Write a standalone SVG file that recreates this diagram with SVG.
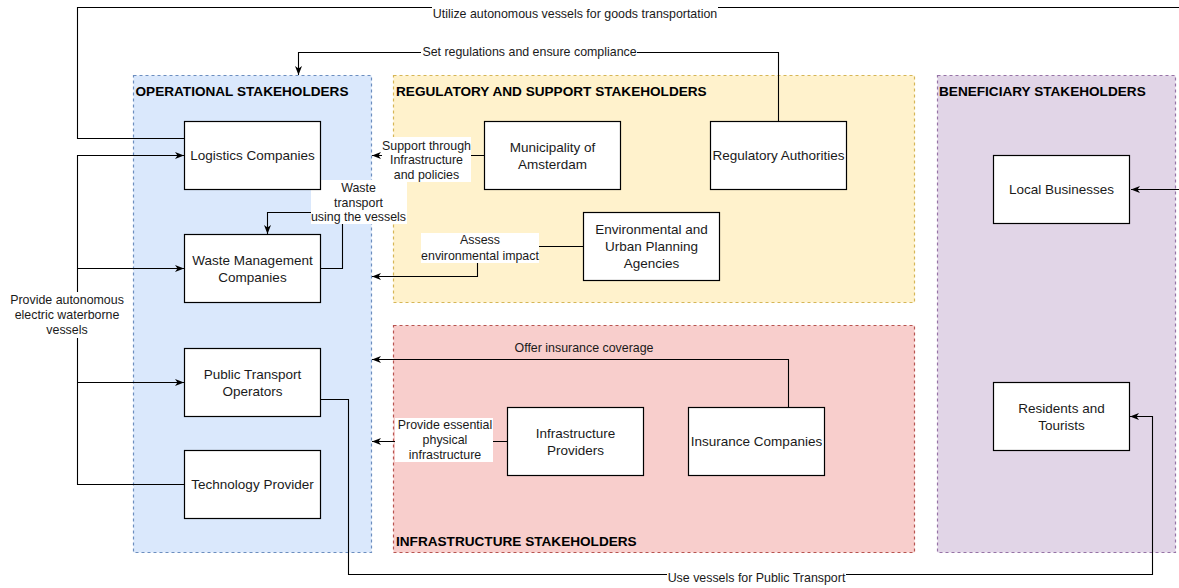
<svg xmlns="http://www.w3.org/2000/svg" width="1179" height="588" viewBox="0 0 1179 588">
  <style>
    .grp { stroke-dasharray: 3 3; stroke-width: 1.2; }
    .node rect { fill: #ffffff; stroke: #000000; stroke-width: 1.2; }
    .node text { font-family: "Liberation Sans", Arial, Helvetica, sans-serif; font-size: 13.5px; fill: #1a1a1a; text-anchor: middle; }
    .title { font-family: "Liberation Sans", Arial, Helvetica, sans-serif; font-size: 13.6px; font-weight: bold; fill: #000000; }
    .edge { fill: none; stroke: #000000; stroke-width: 1.1; }
    .lbl { font-family: "Liberation Sans", Arial, Helvetica, sans-serif; font-size: 12.4px; fill: #1a1a1a; text-anchor: middle; }
    .lblbg { fill: #ffffff; }
  </style>
  <defs>
    <marker id="arr" markerWidth="10" markerHeight="8" refX="9" refY="4" orient="auto" markerUnits="userSpaceOnUse">
      <path d="M0,0.5 L9,4 L0,7.5 L2.5,4 Z" fill="#000000"/>
    </marker>
  </defs>

  <rect width="1179" height="588" fill="#ffffff"/>

  <!-- stakeholder groups -->
  <g id="group-operational">
    <rect class="grp" x="133.5" y="75.5" width="238" height="477" fill="#dae8fc" stroke="#6c8ebf"/>
    <text class="title" x="135.5" y="96">OPERATIONAL STAKEHOLDERS</text>
  </g>
  <g id="group-regulatory">
    <rect class="grp" x="393.5" y="75.5" width="521" height="227" fill="#fff2cc" stroke="#d6b656"/>
    <text class="title" x="396" y="96">REGULATORY AND SUPPORT STAKEHOLDERS</text>
  </g>
  <g id="group-infrastructure">
    <rect class="grp" x="393.5" y="325.5" width="521" height="227" fill="#f8cecc" stroke="#b85450"/>
    <text class="title" x="396" y="546">INFRASTRUCTURE STAKEHOLDERS</text>
  </g>
  <g id="group-beneficiary">
    <rect class="grp" x="937.5" y="75.5" width="238" height="477" fill="#e1d5e7" stroke="#9673a6"/>
    <text class="title" x="939" y="96">BENEFICIARY STAKEHOLDERS</text>
  </g>

  <!-- connectors -->
  <g id="connectors">
    <!-- Logistics -> Local Businesses (goods transportation) -->
    <path class="edge" d="M184,138.5 H77.5 V7.5 H1195 V189.5 H1131" marker-end="url(#arr)"/>
    <!-- Regulatory Authorities -> Operational group -->
    <path class="edge" d="M778.5,121 V52.5 H298.5 V75" marker-end="url(#arr)"/>
    <!-- Municipality -> Operational group -->
    <path class="edge" d="M484,155.5 H372" marker-end="url(#arr)"/>
    <!-- Environmental agencies -> Operational group -->
    <path class="edge" d="M583,246.5 H477.5 V276.5 H372" marker-end="url(#arr)"/>
    <!-- Waste transport loop -->
    <path class="edge" d="M320,268.5 H342.5 V212.5 H267.5 V234" marker-end="url(#arr)"/>
    <!-- Technology Provider -> operators -->
    <path class="edge" d="M184,484.5 H77.5 V155.5 H184" marker-end="url(#arr)"/>
    <path class="edge" d="M77.5,268.5 H184" marker-end="url(#arr)"/>
    <path class="edge" d="M77.5,382.5 H184" marker-end="url(#arr)"/>
    <!-- Insurance -> Operational group -->
    <path class="edge" d="M788.5,407 V359.5 H372" marker-end="url(#arr)"/>
    <!-- Infrastructure Providers -> Operational group -->
    <path class="edge" d="M507,441.5 H372" marker-end="url(#arr)"/>
    <!-- Public Transport -> Residents and Tourists -->
    <path class="edge" d="M320,399.5 H348.5 V574.5 H1152.5 V416.5 H1130" marker-end="url(#arr)"/>
  </g>

  <!-- connector labels -->
  <g id="labels">
    <rect class="lblbg" x="432" y="4" width="286" height="18"/>
    <text class="lbl" x="575" y="17.5">Utilize autonomous vessels for goods transportation</text>

    <rect class="lblbg" x="421" y="45" width="216" height="15"/>
    <text class="lbl" x="529.5" y="56">Set regulations and ensure compliance</text>

    <rect class="lblbg" x="382" y="137" width="89" height="45"/>
    <text class="lbl" x="426.5" y="150">Support through</text>
    <text class="lbl" x="426.5" y="164">Infrastructure</text>
    <text class="lbl" x="426.5" y="178.5">and policies</text>

    <rect class="lblbg" x="311" y="180" width="96" height="44"/>
    <text class="lbl" x="358.5" y="192">Waste</text>
    <text class="lbl" x="358.5" y="206.5">transport</text>
    <text class="lbl" x="358.5" y="221">using the vessels</text>

    <rect class="lblbg" x="421" y="233" width="118" height="30"/>
    <text class="lbl" x="480" y="244">Assess</text>
    <text class="lbl" x="480" y="260">environmental impact</text>

    <rect class="lblbg" x="10" y="292" width="114" height="46"/>
    <text class="lbl" x="67" y="304">Provide autonomous</text>
    <text class="lbl" x="67" y="319">electric waterborne</text>
    <text class="lbl" x="67" y="333.5">vessels</text>

    <text class="lbl" x="584" y="351.5">Offer insurance coverage</text>

    <rect class="lblbg" x="395" y="418" width="98" height="44"/>
    <text class="lbl" x="445" y="429">Provide essential</text>
    <text class="lbl" x="445" y="444">physical</text>
    <text class="lbl" x="445" y="458.5">infrastructure</text>

    <rect class="lblbg" x="667" y="569" width="179" height="15"/>
    <text class="lbl" x="756.5" y="581.5">Use vessels for Public Transport</text>
  </g>

  <!-- operational stakeholders -->
  <g id="logistics-companies" class="node">
    <rect x="184.5" y="121.5" width="136" height="68"/>
    <text x="252.5" y="159.5">Logistics Companies</text>
  </g>
  <g id="waste-management" class="node">
    <rect x="184.5" y="234.5" width="136" height="68"/>
    <text x="252.5" y="264.5">Waste Management</text>
    <text x="252.5" y="281.5">Companies</text>
  </g>
  <g id="public-transport" class="node">
    <rect x="184.5" y="348.5" width="136" height="68"/>
    <text x="252.5" y="378.5">Public Transport</text>
    <text x="252.5" y="395.5">Operators</text>
  </g>
  <g id="technology-provider" class="node">
    <rect x="184.5" y="450.5" width="136" height="68"/>
    <text x="252.5" y="488.5">Technology Provider</text>
  </g>

  <!-- regulatory and support stakeholders -->
  <g id="municipality" class="node">
    <rect x="484.5" y="121.5" width="136" height="68"/>
    <text x="552.5" y="151.5">Municipality of</text>
    <text x="552.5" y="168.5">Amsterdam</text>
  </g>
  <g id="regulatory-authorities" class="node">
    <rect x="710.5" y="121.5" width="136" height="68"/>
    <text x="778.5" y="159.5">Regulatory Authorities</text>
  </g>
  <g id="environmental-agencies" class="node">
    <rect x="583.5" y="212.5" width="136" height="68"/>
    <text x="651.5" y="233.5">Environmental and</text>
    <text x="651.5" y="250.5">Urban Planning</text>
    <text x="651.5" y="267.5">Agencies</text>
  </g>

  <!-- infrastructure stakeholders -->
  <g id="infrastructure-providers" class="node">
    <rect x="507.5" y="407.5" width="136" height="68"/>
    <text x="575.5" y="437.5">Infrastructure</text>
    <text x="575.5" y="454.5">Providers</text>
  </g>
  <g id="insurance-companies" class="node">
    <rect x="688.5" y="407.5" width="136" height="68"/>
    <text x="756.5" y="445.5">Insurance Companies</text>
  </g>

  <!-- beneficiary stakeholders -->
  <g id="local-businesses" class="node">
    <rect x="993.5" y="155.5" width="136" height="68"/>
    <text x="1061.5" y="193.5">Local Businesses</text>
  </g>
  <g id="residents-tourists" class="node">
    <rect x="993.5" y="382.5" width="136" height="68"/>
    <text x="1061.5" y="412.5">Residents and</text>
    <text x="1061.5" y="429.5">Tourists</text>
  </g>
</svg>
